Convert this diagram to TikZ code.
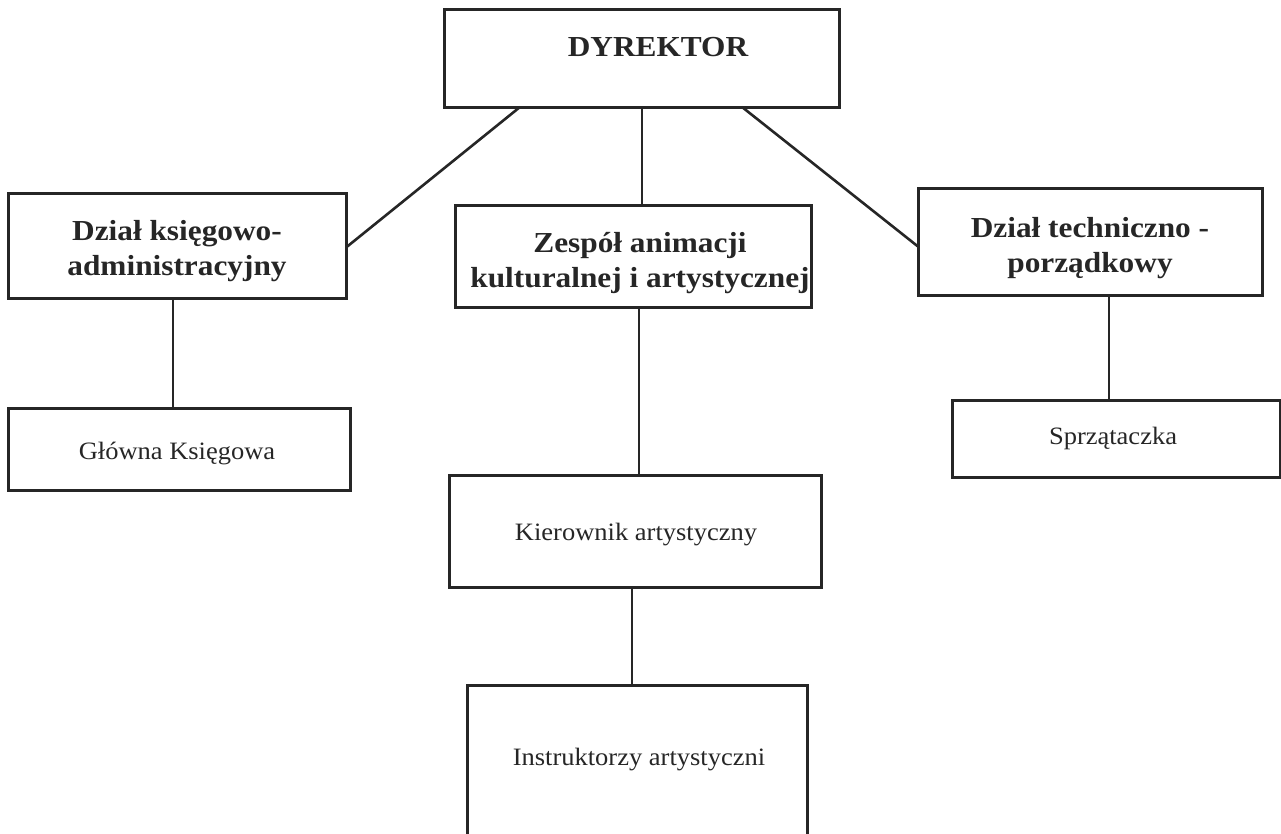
\documentclass[tikz,border=0pt]{standalone}
\usepackage{fontspec}
\setmainfont{Liberation Serif}
\newfontfamily\boldwide[FakeStretch=1.08]{Liberation Serif Bold}
\newfontfamily\regwide[FakeStretch=1.06]{Liberation Serif}
\definecolor{ink}{HTML}{262626}
\begin{document}
\begin{tikzpicture}[x=1pt,y=-1pt,
  box/.style={draw=ink, line width=3pt, inner sep=0pt, outer sep=0pt, anchor=north west},
  head/.style={text=ink, align=center, font=\boldwide\fontsize{29}{35}\selectfont, inner sep=0pt},
  sub/.style={text=ink, align=center, font=\regwide\fontsize{25}{30}\selectfont, inner sep=0pt},
  link/.style={draw=ink, line width=2.6pt}]
\useasboundingbox (0,0) rectangle (1281,833);
% boxes
\node[box, minimum width=395, minimum height=98] (D) at (444,9) {};
\node[box, minimum width=338, minimum height=105] (A) at (8,193) {};
\node[box, minimum width=356, minimum height=102] (Z) at (455,205) {};
\node[box, minimum width=344, minimum height=107] (T) at (918,188) {};
\node[box, minimum width=342, minimum height=82] (G) at (8,408) {};
\node[box, minimum width=328, minimum height=77] (S) at (952,400) {};
\node[box, minimum width=372, minimum height=112] (K) at (449,475) {};
\node[box, minimum width=340, minimum height=152] (I) at (467,685) {};
% texts
\node[head] (tD) at (658,47) {DYREKTOR};
\node[head] (tA) at (177,251) {Dział księgowo-\\administracyjny};
\node[head] (tZ) at (640,263) {Zespół animacji\\kulturalnej i artystycznej};
\node[head] (tT) at (1090,248) {Dział techniczno -\\porządkowy};
\node[sub] (tG) at (177,453) {Główna Księgowa};
\node[sub] (tS) at (1113,438) {Sprzątaczka};
\node[sub] (tK) at (636,535) {Kierownik artystyczny};
\node[sub] (tI) at (639,760) {Instruktorzy artystyczni};
% connector end points on box edges
\coordinate (d1) at ([xshift=76]D.south west);
\coordinate (d2) at ([xshift=198]D.south west);
\coordinate (d3) at ([xshift=298]D.south west);
\coordinate (a1) at ([xshift=165]A.south west);
\coordinate (z1) at ([xshift=184]Z.south west);
\coordinate (t1) at ([xshift=191]T.south west);
\coordinate (k1) at ([xshift=183]K.south west);
% connectors
\draw[link] (d1) -- ([yshift=-2]A.east);
\draw[link] (d2) -- (Z.north -| d2);
\draw[link] (d3) -- ([yshift=-5]T.west);
\draw[link] (a1) -- (G.north -| a1);
\draw[link] (z1) -- (K.north -| z1);
\draw[link] (t1) -- (S.north -| t1);
\draw[link] (k1) -- (I.north -| k1);
\end{tikzpicture}
\end{document}
